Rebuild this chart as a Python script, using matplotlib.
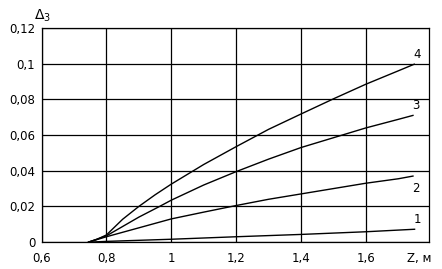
import numpy as np
import matplotlib.pyplot as plt
from matplotlib.ticker import FuncFormatter

plt.rcParams['font.family'] = ['DejaVu Sans']
plt.rcParams['mathtext.fontset'] = 'dejavusans'

# кривые 1..4, значения
z1 = [0.75, 0.8, 0.9, 1.0, 1.2, 1.4, 1.6, 1.75]
d1 = [0.0, 0.0004, 0.001, 0.0016, 0.003, 0.0043, 0.0058, 0.0072]

z2 = [0.745, 0.8, 0.9, 1.0, 1.1, 1.2, 1.3, 1.4, 1.5, 1.6, 1.7, 1.745]
d2 = [0.0, 0.003, 0.008, 0.013, 0.0168, 0.0205, 0.024, 0.027, 0.030, 0.033, 0.0355, 0.037]

z3 = [0.745, 0.8, 0.9, 0.964, 1.0, 1.1, 1.2, 1.3, 1.4, 1.5, 1.6, 1.7, 1.745]
d3 = [0.0, 0.0035, 0.014, 0.020, 0.0235, 0.032, 0.0395, 0.0465, 0.053, 0.0585, 0.064, 0.0688, 0.071]

z4 = [0.745, 0.77, 0.8, 0.85, 0.9, 0.95, 1.0, 1.1, 1.2, 1.3, 1.4, 1.5, 1.6, 1.7, 1.749]
d4 = [0.0, 0.0015, 0.004, 0.0128, 0.020, 0.0265, 0.0325, 0.0435, 0.0535, 0.0632, 0.0718, 0.0803, 0.0885, 0.096, 0.0997]

curves = [(z1, d1, "1"), (z2, d2, "2"), (z3, d3, "3"), (z4, d4, "4")]
label_offsets = {"1": (2, 7), "2": (2, -9), "3": (2, 7), "4": (2, 7)}

xticks = [0.6, 0.8, 1.0, 1.2, 1.4, 1.6]
yticks = [0, 0.02, 0.04, 0.06, 0.08, 0.1, 0.12]

fig = plt.figure(figsize=(4.42, 2.69), dpi=100)
ax = fig.add_axes([0.094, 0.1, 0.877, 0.796])

for z, d, name in curves:
    ax.plot(z, d, color='black', lw=1.0)
    ax.annotate(name, (z[-1], d[-1]), xytext=label_offsets[name], textcoords='offset points',
                ha='center', va='center', fontsize=8.5)

ax.set_xlim(0.6, 1.795)
ax.set_ylim(0, 0.12)
ax.set_xticks(xticks)
ax.set_yticks(yticks)

def fmt(v, pos):
    s = ('%.2f' % v).rstrip('0').rstrip('.')
    return s.replace('.', ',')

ax.xaxis.set_major_formatter(FuncFormatter(fmt))
ax.yaxis.set_major_formatter(FuncFormatter(fmt))
ax.tick_params(length=0, labelsize=8.5)
ax.tick_params(axis='x', pad=7)
ax.tick_params(axis='y', pad=4.5)
ax.grid(True, color='black', lw=0.9)
for s in ax.spines.values():
    s.set_linewidth(0.9)

ax.text(0.974, -0.047, "Z, м", transform=ax.transAxes, ha='center', va='top', fontsize=8.5)
ax.text(-0.02, 1.02, r"$\Delta_3$", transform=ax.transAxes, ha='left', va='bottom', fontsize=10)

fig.savefig("out.png", dpi=100)
